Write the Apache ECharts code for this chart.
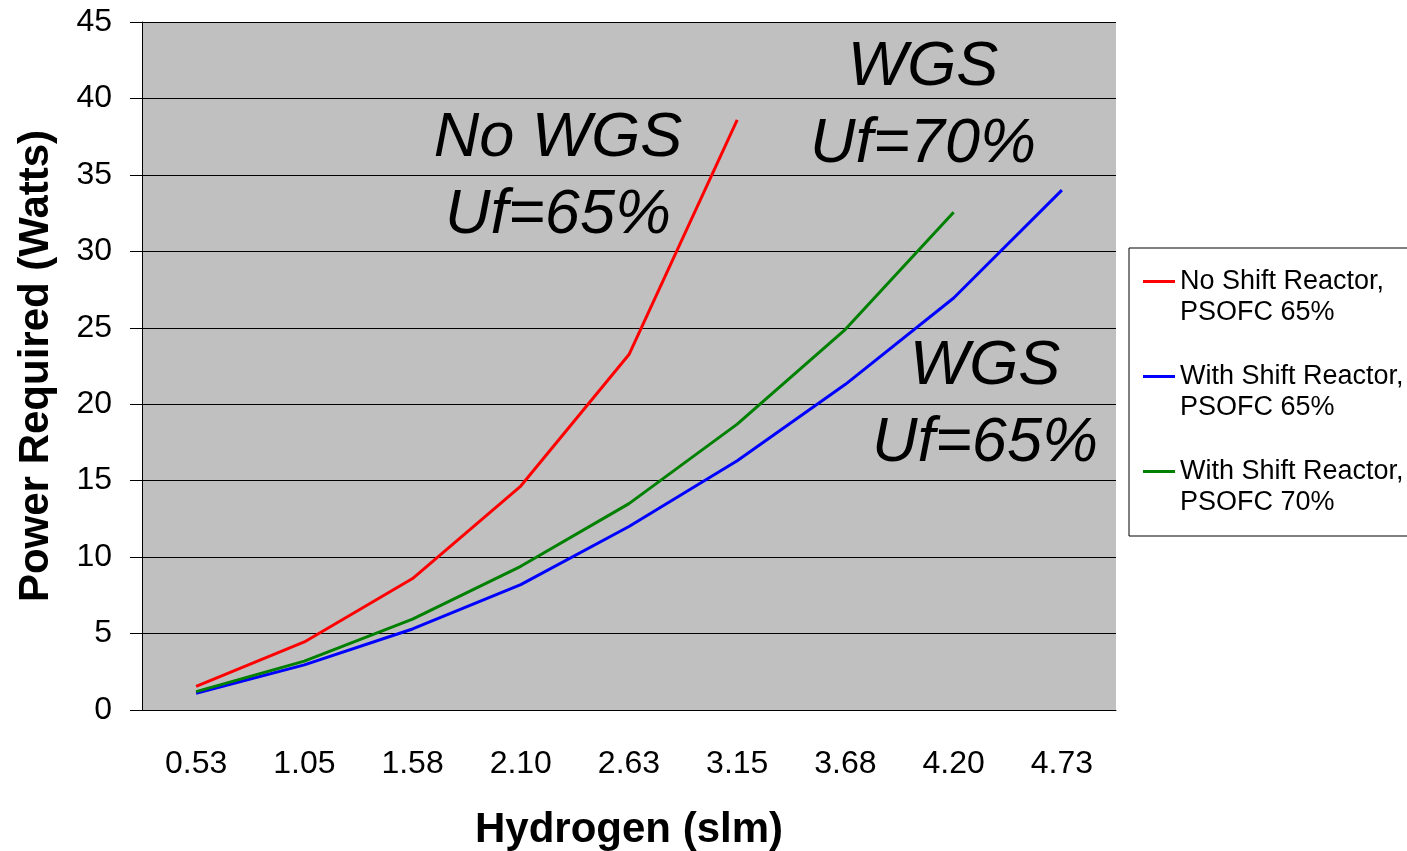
<!DOCTYPE html>
<html lang="en">
<head>
    <meta charset="UTF-8">
    <title>Power Required vs Hydrogen</title>
    <script src="https://cdn.jsdelivr.net/npm/echarts@6/dist/echarts.min.js"></script>
    <style>
        html, body { margin: 0; padding: 0; background: #fff; }
    </style>
</head>
<body>
<div id="myChart" style="width: 1407px;height: 851px"></div>
</body>
<script>
    // categories on the x axis
    var hydrogen = ['0.53', '1.05', '1.58', '2.10', '2.63', '3.15', '3.68', '4.20', '4.73'];
    // series values (Watts)
    var noShift65 = [1.55, 4.45, 8.6, 14.65, 23.25, 38.6];
    var withShift65 = [1.1, 2.95, 5.3, 8.2, 12.0, 16.3, 21.3, 26.95, 34.0];
    var withShift70 = [1.2, 3.2, 5.95, 9.4, 13.5, 18.7, 24.9, 32.55];
    var seriesNames = ['No Shift Reactor,\nPSOFC 65%', 'With Shift Reactor,\nPSOFC 65%', 'With Shift Reactor,\nPSOFC 70%'];

    var font = 'Liberation Sans, Arial, sans-serif';
    // legend icon: short bar lined up with the first text line
    var legendIcon = 'path://M0,14H32V17H0Z M0,0H0.01 M0,62H0.01';

    var myChart = echarts.init(document.getElementById('myChart'));
    myChart.setOption({
        animation: false,
        textStyle: { fontFamily: font },
        grid: {
            left: 142, top: 22, right: 291, bottom: 141,
            outerBoundsMode: 'none',
            containLabel: false,
            show: true, backgroundColor: '#c0c0c0', borderWidth: 0
        },
        legend: {
            orient: 'vertical',
            left: 1129, top: 248,
            padding: [18, 20, 18, 14],
            borderColor: '#000', borderWidth: 1,
            backgroundColor: '#fff',
            itemWidth: 32, itemHeight: 62, itemGap: 33,
            icon: legendIcon,
            itemStyle: { borderWidth: 0 },
            textStyle: { fontSize: 27, lineHeight: 31, color: '#000', fontFamily: font },
            data: seriesNames
        },
        xAxis: {
            type: 'category',
            data: hydrogen,
            boundaryGap: true,
            name: 'Hydrogen (slm)',
            nameLocation: 'middle',
            nameGap: 99,
            nameTextStyle: { fontSize: 42, fontWeight: 'bold', color: '#000' },
            axisLine: { lineStyle: { color: '#000', width: 1 } },
            axisTick: { length: 10, lineStyle: { color: '#000' } },
            axisLabel: { fontSize: 32, color: '#000', margin: 38 }
        },
        yAxis: {
            type: 'value',
            min: 0, max: 45, interval: 5,
            name: 'Power Required (Watts)',
            nameLocation: 'middle',
            nameGap: 85,
            nameTextStyle: { fontSize: 42, fontWeight: 'bold', color: '#000' },
            axisLine: { show: true, lineStyle: { color: '#000', width: 1 } },
            axisTick: { show: true, length: 12, lineStyle: { color: '#000' } },
            axisLabel: { fontSize: 32, color: '#000', margin: 30 },
            splitLine: { lineStyle: { color: '#000', width: 1 } }
        },
        series: [{
            name: seriesNames[0], type: 'line', data: noShift65,
            showSymbol: false, symbol: 'none',
            lineStyle: { color: '#ff0000', width: 3 }, itemStyle: { color: '#ff0000' }
        }, {
            name: seriesNames[1], type: 'line', data: withShift65,
            showSymbol: false, symbol: 'none',
            lineStyle: { color: '#0000ff', width: 3 }, itemStyle: { color: '#0000ff' }
        }, {
            name: seriesNames[2], type: 'line', data: withShift70,
            showSymbol: false, symbol: 'none',
            lineStyle: { color: '#008000', width: 3 }, itemStyle: { color: '#008000' }
        }],
        graphic: [{
            type: 'text',
            style: { text: 'No WGS\nUf=65%', x: 558, y: 177, align: 'center', verticalAlign: 'middle',
                font: 'italic 63px ' + font, lineHeight: 77, fill: '#000' }
        }, {
            type: 'text',
            style: { text: 'WGS\nUf=70%', x: 923, y: 106, align: 'center', verticalAlign: 'middle',
                font: 'italic 63px ' + font, lineHeight: 77, fill: '#000' }
        }, {
            type: 'text',
            style: { text: 'WGS\nUf=65%', x: 985, y: 405, align: 'center', verticalAlign: 'middle',
                font: 'italic 63px ' + font, lineHeight: 77, fill: '#000' }
        }]
    });
</script>
</html>
